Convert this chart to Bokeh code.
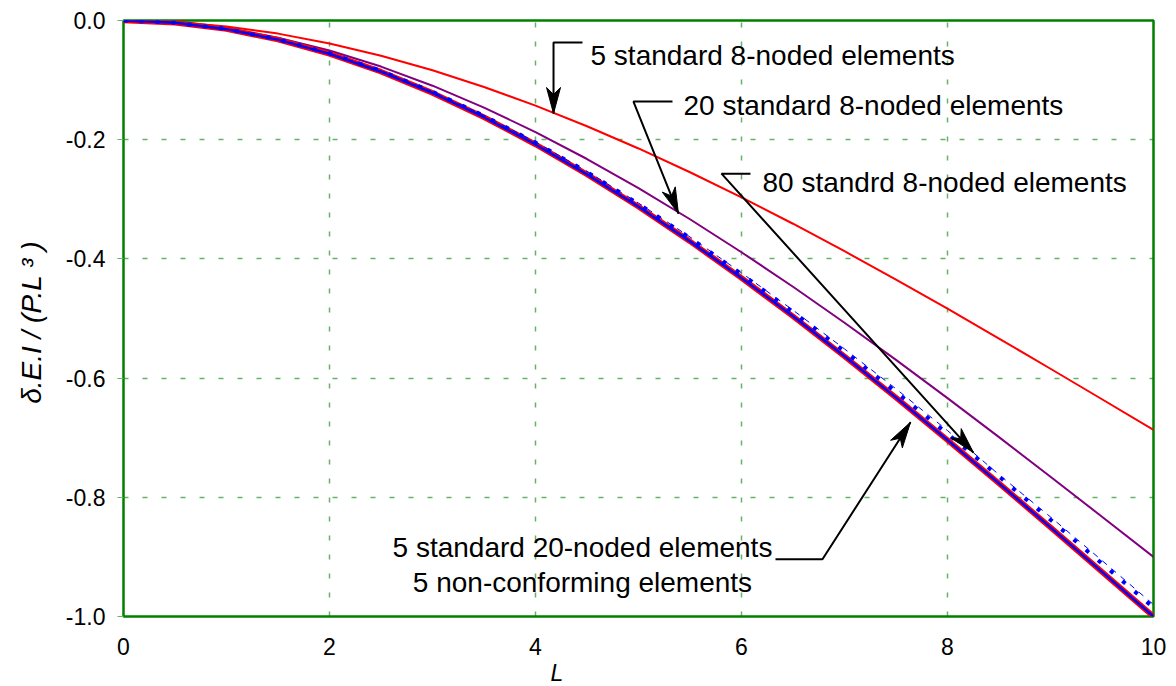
from bokeh.plotting import figure
from bokeh.models import Range1d, FixedTicker, Label, Title
from bokeh.embed import file_html
from bokeh.resources import INLINE
import math

# ---------------- data ----------------
x_nodes = [0, 0.5, 1, 1.5, 2, 2.5, 3, 3.5, 4, 4.5, 5, 5.5, 6, 6.5, 7, 7.5, 8, 8.5, 9, 9.5, 10]

# 5 standard 20-noded elements (thick red)
std20n_5 = [0, -0.0037, -0.0145, -0.0321, -0.056, -0.0859, -0.1215, -0.1623, -0.208, -0.2582,
            -0.3125, -0.3706, -0.432, -0.4964, -0.5635, -0.6328, -0.704, -0.7767, -0.8505, -0.9251, -1.0]
# 5 non-conforming elements (blue, inside the thick red)
nonconf_5 = [0, -0.0037, -0.0145, -0.0321, -0.056, -0.0859, -0.1215, -0.1623, -0.208, -0.2582,
             -0.3125, -0.3706, -0.432, -0.4964, -0.5635, -0.6328, -0.704, -0.7767, -0.8505, -0.9251, -1.0]
# 5 standard 8-noded elements (thin red)
std8n_5 = [0, -0.0025, -0.0100, -0.0220, -0.0385, -0.0590, -0.0835, -0.1115, -0.1429, -0.1774,
           -0.2147, -0.2546, -0.2968, -0.3410, -0.3871, -0.4347, -0.4836, -0.5336, -0.5843, -0.6355, -0.687]
# 20 standard 8-noded elements (purple)
std8n_20 = [0, -0.0033, -0.0131, -0.0289, -0.0504, -0.0773, -0.1094, -0.1461, -0.1872, -0.2324,
            -0.2813, -0.3335, -0.3888, -0.4468, -0.5072, -0.5695, -0.6336, -0.6990, -0.7655, -0.8326, -0.90]
# 80 standard 8-noded elements (thin dashed blue)
std8n_80 = [0, -0.0036, -0.0142, -0.0314, -0.0549, -0.0842, -0.1191, -0.1591, -0.2038, -0.2530,
            -0.3063, -0.3632, -0.4234, -0.4860, -0.5510, -0.6180, -0.6880, -0.7620, -0.8330, -0.9060, -0.980]
# thick dotted blue series
dotted_ref = [0, -0.0036, -0.0143, -0.0316, -0.0552, -0.0846, -0.1197, -0.1599, -0.2049, -0.2543,
              -0.3078, -0.3650, -0.4255, -0.4890, -0.5550, -0.6233, -0.6934, -0.7650, -0.8377, -0.9112, -0.985]

x_ticks = [0, 2, 4, 6, 8, 10]
x_tick_labels = ["0", "2", "4", "6", "8", "10"]
y_ticks = [0.0, -0.2, -0.4, -0.6, -0.8, -1.0]
y_tick_labels = ["0.0", "-0.2", "-0.4", "-0.6", "-0.8", "-1.0"]

FONT = "Liberation Sans"
GREEN = "#008000"

# ---------------- figure ----------------
W, H = 1170, 686
ML, MR, MT, MB = 123, 17, 20, 70
FW, FH = W - ML - MR, H - MT - MB
X0, X1, Y0, Y1 = 0, 10, -1.0, 0.0

p = figure(width=W, height=H, output_backend="svg", toolbar_location=None,
           x_range=Range1d(X0, X1), y_range=Range1d(Y0, Y1),
           min_border_left=ML, min_border_right=MR, min_border_top=MT, min_border_bottom=MB)
p.background_fill_color = "white"
p.border_fill_color = "white"
p.outline_line_color = GREEN
p.outline_line_width = 2.5

# axes
p.xaxis.ticker = FixedTicker(ticks=x_ticks)
p.xaxis.major_label_overrides = {t: l for t, l in zip(x_ticks, x_tick_labels)}
p.yaxis.ticker = FixedTicker(ticks=y_ticks)
p.yaxis.major_label_overrides = {t: l for t, l in zip(y_ticks, y_tick_labels)}
for ax in (p.xaxis, p.yaxis):
    ax.axis_line_color = None
    ax.minor_tick_line_color = None
    ax.major_label_text_font = FONT
    ax.major_label_text_font_size = "23px"
    ax.major_label_text_color = "black"
p.xaxis.major_tick_line_color = None
p.xaxis.major_label_standoff = 15
p.yaxis.major_tick_line_color = "#66b366"
p.yaxis.major_tick_out = 6
p.yaxis.major_tick_in = 0
p.yaxis.major_label_standoff = 12
p.yaxis.axis_label = "\u03b4.E.I / (P.L  \u00b3 )"
p.yaxis.axis_label_text_font = FONT
p.yaxis.axis_label_text_font_size = "28px"
p.yaxis.axis_label_text_font_style = "italic"
p.yaxis.axis_label_text_color = "black"
p.yaxis.axis_label_standoff = 16

# x-axis title "L" (placed left of centre as in the reference)
p.add_layout(Title(text="L", text_font=FONT, text_font_size="23px", text_font_style="italic",
                   text_color="black", align="left", offset=427, standoff=0), "below")

# grid
for g in (p.xgrid, p.ygrid):
    g.grid_line_color = GREEN
    g.grid_line_alpha = 0.6
    g.grid_line_width = 1.5
    g.grid_line_dash = "5 14"

# ---------------- curves ----------------
p.line(x_nodes, std8n_5, line_color="#ff0000", line_width=2)
p.line(x_nodes, std8n_20, line_color="#800080", line_width=2)
p.line(x_nodes, std20n_5, line_color="#ff0000", line_width=5.5)
p.line(x_nodes, nonconf_5, line_color="#0000ff", line_width=2.5)
p.line(x_nodes, dotted_ref, line_color="#0000ff", line_width=4, line_dash="4 12")
p.line(x_nodes, std8n_80, line_color="#0000ff", line_width=1, line_dash="6 6")

# ---------------- annotations ----------------
SX = FW / (X1 - X0)   # px per x unit
SY = FH / (Y1 - Y0)   # px per y unit

def arrow(points, head_len=26, head_half=7, notch=7):
    xs = [pt[0] for pt in points]
    ys = [pt[1] for pt in points]
    p.line(xs, ys, line_color="black", line_width=2)
    (xa, ya), (xb, yb) = points[-2], points[-1]
    dx, dy = (xb - xa) * SX, (yb - ya) * SY
    n = math.hypot(dx, dy)
    ux, uy = dx / n, dy / n
    nx, ny = -uy, ux
    pts = [(0, 0), (-head_len, head_half), (-(head_len - notch), 0), (-head_len, -head_half)]
    hx = [xb + (a * ux + b * nx) / SX for a, b in pts]
    hy = [yb + (a * uy + b * ny) / SY for a, b in pts]
    p.patch(hx, hy, fill_color="black", line_color="black", line_width=1)

arrow([(4.456, -0.0369), (4.175, -0.0369), (4.175, -0.156)])
arrow([(5.330, -0.136), (4.951, -0.136), (5.388, -0.324)])
arrow([(6.087, -0.257), (5.806, -0.257), (8.252, -0.725)])
arrow([(6.330, -0.904), (6.786, -0.904), (7.641, -0.674)])

def text(x, y, s, align="left", size="28px"):
    p.add_layout(Label(x=x, y=y, text=s, text_font=FONT, text_font_size=size,
                       text_align=align, text_baseline="alphabetic", text_color="black"))

text(4.534, -0.0587, "5 standard 8-noded elements")
text(5.437, -0.1426, "20 standard 8-noded elements")
text(6.204, -0.2718, "80 standrd 8-noded elements")
text(4.456, -0.884, "5 standard 20-noded elements", align="center")
text(4.456, -0.943, "5 non-conforming elements", align="center")

open("out.html", "w").write(file_html(p, INLINE))
